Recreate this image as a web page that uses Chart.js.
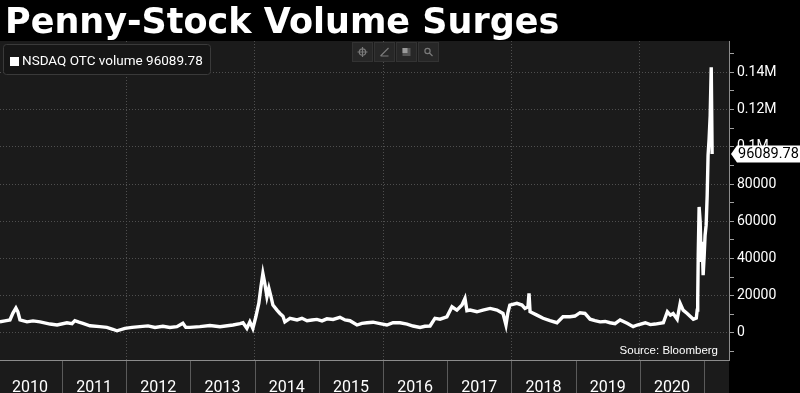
<!DOCTYPE html>
<html><head><meta charset="utf-8">
<script src="https://cdn.jsdelivr.net/npm/chart.js@4.4.0/dist/chart.umd.min.js"></script>
<style>
html,body{margin:0;padding:0;background:#000;width:800px;height:393px;overflow:hidden}
#wrap{position:relative;width:800px;height:393px}
#title{position:absolute;left:5px;top:4px;font:bold 35px/35px "DejaVu Sans";color:#fff;white-space:nowrap;z-index:2}
canvas{position:absolute;left:0;top:0}
</style></head><body>
<div id="wrap"><div id="title"></div><canvas id="c" width="800" height="393"></canvas></div>
<script>
const chartTitle = 'Penny-Stock Volume Surges';
const seriesName = 'NSDAQ OTC volume';
const sourceText = 'Source: Bloomberg';
const yearLabels = ['2010','2011','2012','2013','2014','2015','2016','2017','2018','2019','2020'];
const yTickValues = [0, 20000, 40000, 60000, 80000, 100000, 120000, 140000];
const yTickLabels = ['0','20000','40000','60000','80000','0.1M','0.12M','0.14M'];
const yMinorValues = [-10000, 10000, 30000, 50000, 70000, 90000, 110000, 130000, 150000];

const dates = [
'2010-01-13','2010-02-11','2010-03-11','2010-03-28','2010-04-14','2010-04-25','2010-05-07','2010-06-16','2010-07-20','2010-08-29','2010-10-25','2010-12-04',
'2011-01-29','2011-02-27','2011-03-15','2011-04-07','2011-04-30','2011-06-09','2011-08-04','2011-09-13','2011-10-17','2011-11-09','2011-12-25',
'2012-02-03','2012-03-19','2012-05-04','2012-06-13','2012-07-28','2012-09-06','2012-10-16','2012-11-19','2012-12-06','2012-12-29',
'2013-02-24','2013-04-22','2013-06-18','2013-08-31','2013-10-10','2013-10-27','2013-11-18','2013-12-05','2013-12-22',
'2014-01-08','2014-01-25','2014-02-06','2014-02-17','2014-02-28','2014-03-12','2014-03-23','2014-04-04','2014-04-15','2014-05-08','2014-05-25','2014-06-11','2014-06-22','2014-07-21','2014-08-30','2014-09-27','2014-10-26','2014-11-23','2014-12-21',
'2015-01-19','2015-02-16','2015-03-23','2015-05-01','2015-05-30','2015-06-27','2015-08-06','2015-09-03','2015-10-02','2015-11-05','2015-12-15',
'2016-01-23','2016-02-27','2016-04-07','2016-05-17','2016-06-20','2016-07-30','2016-08-27','2016-09-25','2016-10-23','2016-11-21','2016-12-30',
'2017-01-28','2017-02-25','2017-03-26','2017-04-12','2017-04-23','2017-05-11','2017-06-19','2017-07-23','2017-09-02','2017-10-11','2017-11-14','2017-12-01','2017-12-12','2017-12-23',
'2018-02-01','2018-03-02','2018-03-19','2018-04-05','2018-04-11','2018-04-17','2018-05-26','2018-06-30','2018-08-08','2018-09-17','2018-10-21','2018-11-30','2018-12-28',
'2019-01-26','2019-02-23','2019-03-24','2019-04-21','2019-05-20','2019-06-18','2019-07-16','2019-08-13','2019-09-11','2019-10-21','2019-11-24','2019-12-17',
'2020-02-01','2020-03-01','2020-03-28','2020-05-14','2020-06-06','2020-06-23','2020-07-09','2020-08-01','2020-08-18','2020-09-04','2020-09-27','2020-11-01','2020-11-18','2020-11-23','2020-11-26','2020-11-29','2020-12-04','2020-12-10','2020-12-16','2020-12-21','2020-12-27',
'2021-01-02','2021-01-07','2021-01-13','2021-01-19','2021-01-24','2021-01-30','2021-02-05','2021-02-11','2021-02-16'
];
const volumes = [
6000,6500,7000,10700,13400,11400,7000,6000,6500,6000,4800,4300,
5500,5000,6600,5800,5200,3900,3400,3000,2000,1200,2500,
3000,3400,3800,3000,3600,3000,3400,5200,3000,3000,
3400,4000,3400,4300,5000,5500,2500,6000,2500,
8700,16000,24800,32000,26600,19500,24000,19500,15000,12300,10500,9000,6000,7900,7000,7900,6600,7000,7300,
6500,7600,7300,8400,7000,6600,4300,5200,5500,5800,5000,
4300,5500,5500,4800,3750,3000,3600,3750,7900,7400,8700,
14100,12300,15000,18600,12000,12300,11400,12300,13200,12300,10500,4300,11000,15000,
15900,15000,13200,14000,21300,11400,9600,7900,6600,5500,8700,8700,9100,
10900,10500,7400,6600,6000,6200,5500,5000,7000,5200,3400,4300,
5500,4500,4800,5500,11400,9600,10500,7400,15900,12300,10500,7400,8000,12300,17700,41800,67700,59700,38200,49000,31100,
41800,52500,57900,74000,95400,104400,116800,142700,96089.78
];

document.getElementById('title').textContent = chartTitle;

function toYear(s){
  const [y,m,d] = s.split('-').map(Number);
  const t = Date.UTC(y,m-1,d), a = Date.UTC(y,0,1), b = Date.UTC(y+1,0,1);
  return y + (t-a)/(b-a);
}
const points = dates.map((d,i)=>({x:toYear(d), y:volumes[i]}));
const lastValue = volumes[volumes.length-1];

const X_MIN = 2010.034, X_MAX = 2021.389;
const PLOT_BG = '#1b1b1b';
const GRID = '#4f4f4f';
const AXIS = '#8c8c8c';

const decor = {
  id:'decor',
  beforeDraw(chart){
    const {ctx, chartArea:a} = chart;
    ctx.save();
    ctx.fillStyle = PLOT_BG;
    ctx.fillRect(0, a.top, a.right, chart.height - a.top);
    ctx.restore();
  },
  afterDraw(chart){
    const {ctx, chartArea:a, scales:{x, y}} = chart;
    ctx.save();
    ctx.strokeStyle = '#5a5a5a'; ctx.lineWidth = 1;
    for (let yr = Math.ceil(X_MIN); yr <= Math.floor(X_MAX); yr++){
      const px = Math.round(x.getPixelForValue(yr)) + 0.5;
      ctx.beginPath(); ctx.moveTo(px, a.bottom + 1); ctx.lineTo(px, chart.height); ctx.stroke();
    }
    ctx.fillStyle = '#161616'; ctx.strokeStyle = '#3a3a3a';
    ctx.beginPath(); ctx.roundRect(3.5, 44.5, 207, 30, 3); ctx.fill(); ctx.stroke();
    ctx.fillStyle = '#fff'; ctx.fillRect(10, 57, 9, 9);
    ctx.font = '13.5px Roboto'; ctx.textBaseline = 'middle'; ctx.textAlign = 'left';
    ctx.fillText(seriesName + ' ' + lastValue, 22, 61.5);
    const bx = [352, 374, 396, 418];
    bx.forEach((b, i) => {
      ctx.fillStyle = 'rgba(40,40,40,0.92)'; ctx.strokeStyle = '#333'; ctx.lineWidth = 1;
      ctx.fillRect(b + 0.5, 42.5, 20, 19); ctx.strokeRect(b + 0.5, 42.5, 20, 19);
      ctx.strokeStyle = '#7a7a7a'; ctx.fillStyle = '#7a7a7a'; ctx.lineWidth = 1.2;
      const cx = b + 10.5, cy = 52;
      ctx.beginPath();
      if (i === 0){ ctx.arc(cx, cy, 3.2, 0, Math.PI*2); ctx.moveTo(cx-5,cy); ctx.lineTo(cx+5,cy); ctx.moveTo(cx,cy-5); ctx.lineTo(cx,cy+5); ctx.stroke(); }
      else if (i === 1){ ctx.moveTo(cx-4, cy+4); ctx.lineTo(cx+4, cy-4); ctx.moveTo(cx-4, cy+4); ctx.lineTo(cx+4, cy+4); ctx.stroke(); }
      else if (i === 2){ ctx.fillStyle = '#555'; ctx.fillRect(cx-4, cy-4, 8, 8); ctx.fillStyle = '#9a9a9a'; ctx.fillRect(cx-4, cy-4, 5, 5); }
      else { ctx.arc(cx-1, cy-1, 2.6, 0, Math.PI*2); ctx.moveTo(cx+1, cy+1); ctx.lineTo(cx+4, cy+4); ctx.stroke(); }
    });
    ctx.fillStyle = '#fff'; ctx.font = '11.5px "Liberation Sans"'; ctx.textAlign = 'right'; ctx.textBaseline = 'middle';
    ctx.fillText(sourceText, a.right - 11, a.bottom - 9);
    const ly = Math.round(y.getPixelForValue(lastValue));
    ctx.fillStyle = '#fff';
    ctx.beginPath();
    ctx.moveTo(a.right + 2, ly);
    ctx.lineTo(a.right + 8, ly - 8.5);
    ctx.lineTo(chart.width, ly - 8.5);
    ctx.lineTo(chart.width, ly + 8.5);
    ctx.lineTo(a.right + 8, ly + 8.5);
    ctx.closePath(); ctx.fill();
    ctx.fillStyle = '#000'; ctx.font = '14.5px Roboto'; ctx.textAlign = 'left';
    ctx.fillText(String(lastValue), a.right + 9, ly + 0.5);
    ctx.restore();
  }
};

new Chart(document.getElementById('c'), {
  type:'line',
  data:{ datasets:[{
    label: seriesName,
    data: points,
    borderColor:'#ffffff', borderWidth:3.4, pointRadius:0, tension:0, fill:false
  }]},
  options:{
    responsive:false, animation:false, devicePixelRatio:1,
    layout:{ padding:{ top:41, left:0, right:0, bottom:0 } },
    plugins:{ legend:{display:false}, tooltip:{enabled:false}, title:{display:false} },
    scales:{
      x:{
        type:'linear', min:X_MIN, max:X_MAX,
        afterBuildTicks(scale){
          const t = [];
          for (let yr = 2010; yr <= 2021; yr++){
            if (yr >= X_MIN && yr <= X_MAX) t.push({value:yr});
            if (yr + 0.5 >= X_MIN && yr + 0.5 <= X_MAX) t.push({value:yr + 0.5});
          }
          scale.ticks = t;
        },
        ticks:{
          autoSkip:false, maxRotation:0, minRotation:0, padding:0, color:'#ffffff',
          font:{ family:'Roboto', size:16, lineHeight:0.625 },
          callback(v){
            const yr = Math.floor(v);
            if (Math.abs(v - yr - 0.5) > 1e-6) return '';
            const idx = yr - 2010;
            return yearLabels[idx] !== undefined ? yearLabels[idx] : '';
          }
        },
        grid:{
          drawOnChartArea:true, drawTicks:true, tickLength:23, tickColor:'transparent',
          color(ctx){ const v = ctx.tick && ctx.tick.value; return (Number.isInteger(v) && v % 2 === 0) ? GRID : 'transparent'; }
        },
        border:{ display:true, color:AXIS, width:1, dash:[1,2] }
      },
      y:{
        position:'right', min:-14500, max:156800,
        afterFit(scale){ scale.width = 71; },
        afterBuildTicks(scale){
          const all = yTickValues.concat(yMinorValues).sort((p, q) => p - q);
          scale.ticks = all.map(v => ({value:v}));
        },
        ticks:{
          autoSkip:false, color:'#ffffff', padding:3,
          font:{ family:'Roboto', size:14 },
          callback(v){
            const i = yTickValues.indexOf(v);
            return i >= 0 ? yTickLabels[i] : '';
          }
        },
        grid:{
          drawOnChartArea:true, drawTicks:true, tickLength:5, tickColor:'#a0a0a0',
          color(ctx){ const v = ctx.tick && ctx.tick.value; return yTickValues.indexOf(v) >= 0 ? GRID : 'transparent'; }
        },
        border:{ display:true, color:AXIS, width:1, dash:[1,2] }
      }
    }
  },
  plugins:[decor]
});
</script>
</body></html>
